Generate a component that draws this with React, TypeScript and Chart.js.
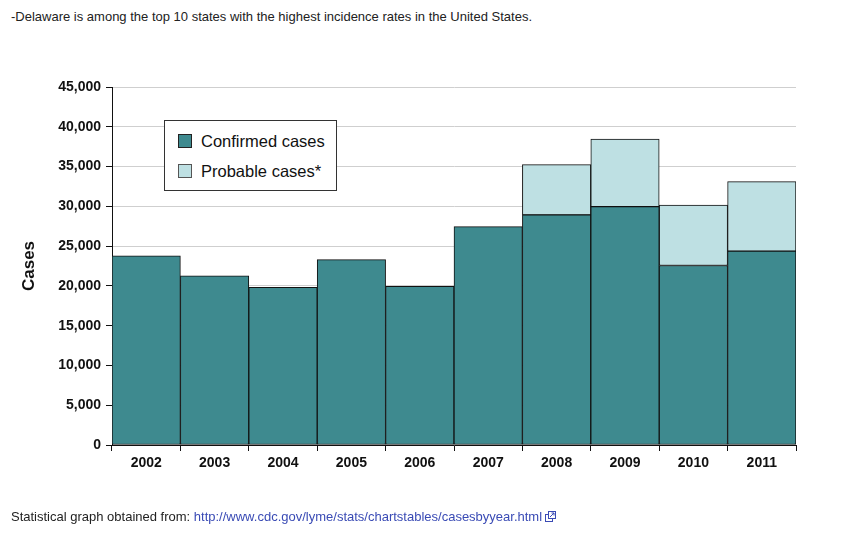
import React, { useEffect, useRef } from "react";
import { Chart, registerables } from "chart.js";

Chart.register(...registerables);

const years = ["2002", "2003", "2004", "2005", "2006", "2007", "2008", "2009", "2010", "2011"];
const confirmedCases = [23763, 21273, 19804, 23305, 19931, 27444, 28921, 29959, 22561, 24364];
const probableCases = [0, 0, 0, 0, 0, 0, 6321, 8509, 7599, 8733];
const seriesLabels = ["Confirmed cases", "Probable cases*"];
const confirmedColor = "#3e8a8f";
const probableColor = "#bee0e3";

const headline = "-Delaware is among the top 10 states with the highest incidence rates in the United States.";
const sourcePrefix = "Statistical graph obtained from: ";
const sourceUrl = "http://www.cdc.gov/lyme/stats/chartstables/casesbyyear.html";

export default function App() {
  const canvasRef = useRef<HTMLCanvasElement | null>(null);

  useEffect(() => {
    if (!canvasRef.current) return;
    const chart = new Chart(canvasRef.current, {
      type: "bar",
      data: {
        labels: years,
        datasets: [
          {
            label: seriesLabels[0],
            data: confirmedCases,
            backgroundColor: confirmedColor,
            borderColor: "#111",
            borderWidth: 1,
            borderSkipped: false,
            categoryPercentage: 1,
            barPercentage: 1,
          },
          {
            label: seriesLabels[1],
            data: probableCases,
            backgroundColor: probableColor,
            borderColor: "#111",
            borderWidth: 1,
            borderSkipped: false,
            categoryPercentage: 1,
            barPercentage: 1,
          },
        ],
      },
      options: {
        animation: false,
        responsive: false,
        maintainAspectRatio: false,
        layout: { padding: { left: 0, right: 59, top: 87, bottom: 62 } },
        plugins: { legend: { display: false }, tooltip: { enabled: false } },
        scales: {
          x: {
            stacked: true,
            afterFit: (s: any) => { s.height = 30; },
            grid: { display: true, drawOnChartArea: false, tickLength: 6, tickColor: "#111", offset: true },
            border: { display: true, color: "#111", width: 1 },
            ticks: { color: "#111", padding: 4, font: { family: "Arial, 'Liberation Sans'", size: 14, weight: "bold" } },
          },
          y: {
            stacked: true,
            min: 0,
            max: 45000,
            afterFit: (s: any) => { s.width = 112; },
            ticks: {
              stepSize: 5000,
              color: "#111",
              padding: 5,
              font: { family: "Arial, 'Liberation Sans'", size: 14, weight: "bold" },
              callback: (v: any) => Number(v).toLocaleString("en-US"),
            },
            grid: { color: "#cfcfcf", tickColor: "#111", tickLength: 6, lineWidth: 1 },
            border: { display: true, color: "#111", width: 1 },
            title: {
              display: true,
              text: "Cases",
              color: "#111",
              font: { family: "Arial, 'Liberation Sans'", size: 17, weight: "bold" },
              padding: { top: 19, bottom: 0 },
            },
          },
        },
      },
    });
    return () => chart.destroy();
  }, []);

  const font = "Arial, 'Liberation Sans', sans-serif";
  return (
    <div style={{ position: "absolute", left: 0, top: 0, width: 855, height: 537, background: "#fff", fontFamily: font }}>
      <div style={{ position: "absolute", left: 11, top: 9, fontSize: 13, color: "#222", whiteSpace: "nowrap" }}>{headline}</div>
      <canvas ref={canvasRef} width={855} height={537} style={{ position: "absolute", left: 0, top: 0 }} />
      <div
        style={{
          position: "absolute",
          left: 164,
          top: 120,
          width: 171,
          height: 69,
          border: "1px solid #333",
          background: "#fff",
        }}
      >
        {seriesLabels.map((lab, i) => (
          <div key={lab} style={{ position: "absolute", left: 13, top: 11 + i * 30, height: 18, display: "flex", alignItems: "center" }}>
            <div
              style={{
                width: 12,
                height: 12,
                background: i === 0 ? confirmedColor : probableColor,
                border: i === 0 ? "1px solid #222" : "1px solid #555",
                marginRight: 9,
              }}
            />
            <span style={{ fontSize: 16.5, color: "#111", whiteSpace: "nowrap" }}>{lab}</span>
          </div>
        ))}
      </div>
      <div style={{ position: "absolute", left: 11, top: 509, fontSize: 13, color: "#222", whiteSpace: "nowrap" }}>
        {sourcePrefix}
        <span style={{ color: "#3a4bb5" }}>{sourceUrl}</span>
        <svg width="11" height="11" viewBox="0 0 11 11" style={{ marginLeft: 3, verticalAlign: "-1px" }}>
          <rect x="0.5" y="3.5" width="7" height="7" fill="#fff" stroke="#3a4bb5" />
          <rect x="3.5" y="0.5" width="7" height="7" fill="#fff" stroke="#3a4bb5" />
          <path d="M5 6 L9 2 M6.5 2 H9 V4.5" stroke="#3a4bb5" fill="none" />
        </svg>
      </div>
    </div>
  );
}
